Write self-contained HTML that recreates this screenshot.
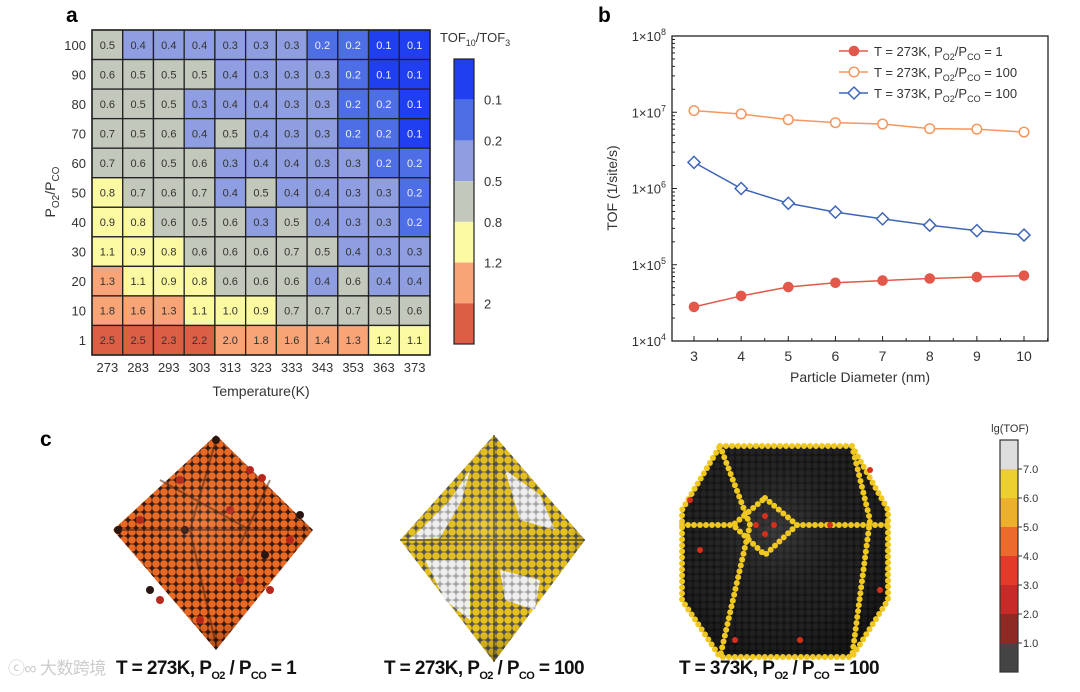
<!DOCTYPE html>
<html><head><meta charset="utf-8">
<style>
html,body{margin:0;padding:0;background:#fff;}
body{width:1080px;height:687px;overflow:hidden;font-family:"Liberation Sans","Noto Sans CJK SC",sans-serif;}
svg text{font-family:"Liberation Sans","Noto Sans CJK SC",sans-serif;}
</style></head>
<body>
<svg id="fig" width="1080" height="687" viewBox="0 0 1080 687" xmlns="http://www.w3.org/2000/svg">
<defs>
 <pattern id="p1" width="8" height="8" patternUnits="userSpaceOnUse">
  <rect width="8" height="8" fill="#3a1a10"/><circle cx="4" cy="4" r="3.8" fill="#ee6a22"/>
 </pattern>
 <pattern id="p2" width="8" height="8" patternUnits="userSpaceOnUse">
  <rect width="8" height="8" fill="#555"/><circle cx="4" cy="4" r="3.8" fill="#e9c21c"/>
 </pattern>
 <pattern id="p2w" width="8" height="8" patternUnits="userSpaceOnUse">
  <rect width="8" height="8" fill="#aaa"/><circle cx="4" cy="4" r="3.8" fill="#f4f4f4"/>
 </pattern>
 <pattern id="p3" width="7" height="7" patternUnits="userSpaceOnUse">
  <rect width="7" height="7" fill="#151515"/><circle cx="3.5" cy="3.5" r="3" fill="#232323"/>
 </pattern>
 <radialGradient id="shade" cx="45%" cy="40%" r="65%">
  <stop offset="0%" stop-color="#fff" stop-opacity="0.12"/>
  <stop offset="70%" stop-color="#000" stop-opacity="0"/>
  <stop offset="100%" stop-color="#000" stop-opacity="0.35"/>
 </radialGradient>
</defs>
<text x="66" y="22" font-size="21" font-weight="bold">a</text>
<text x="598" y="22" font-size="21" font-weight="bold">b</text>
<text x="40" y="446" font-size="21" font-weight="bold">c</text>
<g id="heat"></g>
<g id="cbar"></g>
<g id="line"></g>
<g id="parts">
 <polygon points="216,435 313,530 216,650 113,530" fill="url(#p1)"/>
 <g fill="#b8281a">
  <circle cx="180" cy="480" r="4"/><circle cx="250" cy="470" r="4"/><circle cx="262" cy="478" r="4"/><circle cx="140" cy="520" r="4"/>
  <circle cx="290" cy="540" r="4"/><circle cx="240" cy="580" r="4"/><circle cx="160" cy="600" r="4"/><circle cx="270" cy="590" r="4"/>
  <circle cx="200" cy="620" r="4"/><circle cx="230" cy="510" r="4"/>
 </g>
 <g fill="#2a1510">
  <circle cx="216" cy="440" r="4"/><circle cx="118" cy="530" r="4"/><circle cx="150" cy="590" r="4"/><circle cx="300" cy="515" r="4"/>
  <circle cx="185" cy="530" r="4"/><circle cx="265" cy="555" r="4"/>
 </g>
 <path d="M216,440 L190,530 L216,645 M118,530 L308,530 M160,480 L250,530 M270,480 L240,545" stroke="#3a1508" stroke-width="2" opacity="0.5" fill="none"/>
 <polygon points="216,435 313,530 216,650 113,530" fill="url(#shade)"/>
 <polygon points="494,435 585,540 494,662 400,540" fill="url(#p2)"/>
 <polygon points="470,470 450,500 420,530 408,540 440,538 462,500" fill="url(#p2w)"/>
 <polygon points="425,560 470,560 470,620 445,600" fill="url(#p2w)"/>
 <polygon points="505,470 540,495 555,530 520,520" fill="url(#p2w)"/>
 <polygon points="500,570 540,580 535,610 505,600" fill="url(#p2w)"/>
 <path d="M494,435 L494,662 M400,540 L585,540" stroke="#222" stroke-width="2" opacity="0.5" fill="none"/>
 <polygon points="494,435 585,540 494,662 400,540" fill="url(#shade)"/>
 <polygon points="720,446 852,446 888,510 888,600 852,657 720,657 682,600 682,510" fill="url(#p3)"/>
 <polygon points="720,446 852,446 888,510 888,600 852,657 720,657 682,600 682,510" fill="url(#shade)"/>
 <g fill="none" stroke="#f0c820" stroke-width="6" stroke-linecap="round" stroke-dasharray="0 6">
  <polygon points="720,446 852,446 888,510 888,600 852,657 720,657 682,600 682,510"/>
  <polyline points="720,446 750,525 720,657"/>
  <polyline points="852,446 870,520 852,657"/>
  <polygon points="765,498 797,525 765,555 733,525"/>
  <line x1="682" y1="525" x2="733" y2="525"/><line x1="797" y1="525" x2="888" y2="525"/>
 </g>
 <g fill="#d83018">
  <circle cx="765" cy="516" r="3"/><circle cx="756" cy="525" r="3"/><circle cx="774" cy="525" r="3"/><circle cx="765" cy="534" r="3"/>
  <circle cx="830" cy="525" r="3"/><circle cx="700" cy="550" r="3"/><circle cx="870" cy="470" r="3"/><circle cx="800" cy="640" r="3"/>
  <circle cx="690" cy="500" r="3"/><circle cx="880" cy="590" r="3"/><circle cx="735" cy="640" r="3"/>
 </g>
</g>
<g id="caps" font-size="19" font-weight="bold" fill="#111" letter-spacing="-0.6">
 <text x="116" y="674">T = 273K, P<tspan font-size="11" dy="5">O2</tspan><tspan dy="-5"> / P</tspan><tspan font-size="11" dy="5">CO</tspan><tspan dy="-5"> = 1</tspan></text>
 <text x="384" y="674">T = 273K, P<tspan font-size="11" dy="5">O2</tspan><tspan dy="-5"> / P</tspan><tspan font-size="11" dy="5">CO</tspan><tspan dy="-5"> = 100</tspan></text>
 <text x="679" y="674">T = 373K, P<tspan font-size="11" dy="5">O2</tspan><tspan dy="-5"> / P</tspan><tspan font-size="11" dy="5">CO</tspan><tspan dy="-5"> = 100</tspan></text>
 <text x="8" y="674" font-size="17" font-weight="normal" fill="#ccc">ⓒ∞ 大数跨境</text>
</g>
<g id="lgcb"></g>
</svg>
<script>
const NS="http://www.w3.org/2000/svg";
function mk(tag,attrs,parent,text){const e=document.createElementNS(NS,tag);for(const k in attrs)e.setAttribute(k,attrs[k]);if(text!==undefined)e.textContent=text;parent.appendChild(e);return e;}

// ---------- Panel a data ----------
const temps=[273,283,293,303,313,323,333,343,353,363,373];
const ratios=[100,90,80,70,60,50,40,30,20,10,1];
const heatRows=[
[0.5,0.4,0.4,0.4,0.3,0.3,0.3,0.2,0.2,0.1,0.1],
[0.6,0.5,0.5,0.5,0.4,0.3,0.3,0.3,0.2,0.1,0.1],
[0.6,0.5,0.5,0.3,0.4,0.4,0.3,0.3,0.2,0.2,0.1],
[0.7,0.5,0.6,0.4,0.5,0.4,0.3,0.3,0.2,0.2,0.1],
[0.7,0.6,0.5,0.6,0.3,0.4,0.4,0.3,0.3,0.2,0.2],
[0.8,0.7,0.6,0.7,0.4,0.5,0.4,0.4,0.3,0.3,0.2],
[0.9,0.8,0.6,0.5,0.6,0.3,0.5,0.4,0.3,0.3,0.2],
[1.1,0.9,0.8,0.6,0.6,0.6,0.7,0.5,0.4,0.3,0.3],
[1.3,1.1,0.9,0.8,0.6,0.6,0.6,0.4,0.6,0.4,0.4],
[1.8,1.6,1.3,1.1,1.0,0.9,0.7,0.7,0.7,0.5,0.6],
[2.5,2.5,2.3,2.2,2.0,1.8,1.6,1.4,1.3,1.2,1.1]];
const binLabels=["0.1","0.2","0.5","0.8","1.2","2"];
const binColors=["#1f3ff0","#4e6ee6","#8e9ee0","#c2c8bb","#fbf9a2","#f9a477","#dc5e44"];
const binEdges=[0.15,0.25,0.45,0.75,1.25,2.1];
function colorOf(v){let i=0;while(i<binEdges.length&&v>=binEdges[i])i++;return binColors[i];}

const hm=document.getElementById('heat');
const gx0=92,gx1=430,gy0=30,gy1=355;
const cw=(gx1-gx0)/temps.length, ch=(gy1-gy0)/ratios.length;
const xCell=i=>gx0+i*cw, yCell=j=>gy0+j*ch;
heatRows.forEach((row,j)=>row.forEach((v,i)=>{
  const r=mk('rect',{x:xCell(i),y:yCell(j),width:cw,height:ch,fill:colorOf(v),stroke:'#222','stroke-width':1.3},hm);
  
  
  const t=mk('text',{x:xCell(i)+cw/2,y:yCell(j)+ch/2+4,'text-anchor':'middle','font-size':11,fill:v<0.25?'#eef':'#333'},hm,v.toFixed(1));
  
  
}));
mk('rect',{x:gx0,y:gy0,width:gx1-gx0,height:gy1-gy0,fill:'none',stroke:'#222','stroke-width':1.5},hm);
ratios.forEach((r,j)=>{const t=mk('text',{x:gx0-6,y:yCell(j)+ch/2+5,'text-anchor':'end','font-size':13,fill:'#333'},hm,r);
 });
temps.forEach((tt,i)=>{const t=mk('text',{x:xCell(i)+cw/2,y:372,'text-anchor':'middle','font-size':13,fill:'#333'},hm,tt);
 });
const xt=mk('text',{x:(gx0+gx1)/2,y:396,'text-anchor':'middle','font-size':14,fill:'#333'},hm,'Temperature(K)');

const yt=mk('text',{transform:'translate(55,192) rotate(-90)','text-anchor':'middle','font-size':14,fill:'#333'},hm);

yt.innerHTML='P<tspan font-size="10" dy="4">O2</tspan><tspan dy="-4">/P</tspan><tspan font-size="10" dy="4">CO</tspan>';

const cb=document.getElementById('cbar');
const bx=454,by0=59,by1=344,bh=(by1-by0)/binColors.length;
binColors.forEach((c,i)=>{const r=mk('rect',{x:bx,y:by0+i*bh,width:20,height:bh,fill:c},cb);
 });
mk('rect',{x:bx,y:by0,width:20,height:by1-by0,fill:'none',stroke:'#222','stroke-width':1.2},cb);
binLabels.forEach((l,i)=>{const t=mk('text',{x:484,y:by0+(i+1)*bh+5,'font-size':13,fill:'#333'},cb,l);
 });
const cbt=mk('text',{x:440,y:42,'font-size':13,fill:'#333'},cb);

cbt.innerHTML='TOF<tspan font-size="9" dy="4">10</tspan><tspan dy="-4">/TOF</tspan><tspan font-size="9" dy="4">3</tspan>';

// ---------- Panel b data ----------
const diameters=[3,4,5,6,7,8,9,10];
const tofRed=[2.8e4,3.9e4,5.1e4,5.8e4,6.2e4,6.6e4,6.9e4,7.2e4];
const tofOrange=[1.05e7,9.5e6,8.0e6,7.3e6,7.0e6,6.1e6,6.0e6,5.5e6];
const tofBlue=[2.2e6,1.0e6,6.4e5,4.9e5,4.0e5,3.3e5,2.8e5,2.45e5];
const yTickExp=[4,5,6,7,8];

const lc=document.getElementById('line');
const px0=672,px1=1048,py0=36,py1=341;
const xs=d=>694+(d-3)*(1024-694)/7;
const ys=v=>py1-(Math.log10(v)-4)*(py1-py0)/4;
mk('rect',{x:px0,y:py0,width:px1-px0,height:py1-py0,fill:'none',stroke:'#222','stroke-width':1.3},lc);
diameters.forEach(d=>{
 mk('line',{x1:xs(d),x2:xs(d),y1:py1,y2:py1-5,stroke:'#222'},lc);
 mk('line',{x1:xs(d+0.5),x2:xs(d+0.5),y1:py1,y2:py1-3,stroke:'#222'},lc);
 const t=mk('text',{x:xs(d),y:py1+20,'text-anchor':'middle','font-size':14,fill:'#333'},lc,d);
 
});
yTickExp.forEach(e=>{
 const y=ys(Math.pow(10,e));
 mk('line',{x1:px0,x2:px0+5,y1:y,y2:y,stroke:'#222'},lc);
 if(e<8)for(let k=2;k<10;k++){const yy=ys(k*Math.pow(10,e));mk('line',{x1:px0,x2:px0+3,y1:yy,y2:yy,stroke:'#222'},lc);}
 const t=mk('text',{x:px0-6,y:y+5,'text-anchor':'end','font-size':13,fill:'#333'},lc);
 t.innerHTML='1×10<tspan font-size="9" dy="-6">'+e+'</tspan>';
 
});
const bxt=mk('text',{x:860,y:382,'text-anchor':'middle','font-size':14,fill:'#333'},lc,'Particle Diameter (nm)');

const byt=mk('text',{transform:'translate(617,188) rotate(-90)','text-anchor':'middle','font-size':14,fill:'#333'},lc,'TOF (1/site/s)');


function marker(g,type,x,y,c){
 if(type==='fill')return mk('circle',{cx:x,cy:y,r:4.8,fill:c,stroke:c},g);
 if(type==='open')return mk('circle',{cx:x,cy:y,r:4.8,fill:'#fff',stroke:c,'stroke-width':1.5},g);
 return mk('polygon',{points:`${x},${y-6} ${x+6},${y} ${x},${y+6} ${x-6},${y}`,fill:'#fff',stroke:c,'stroke-width':1.5},g);
}
function series(vals,c,type,name){
 const g=mk('g',{},lc);
 
 
 mk('polyline',{points:vals.map((v,i)=>xs(diameters[i])+','+ys(v)).join(' '),fill:'none',stroke:c,'stroke-width':1.5},g);
 vals.forEach((v,i)=>{const m=marker(g,type,xs(diameters[i]),ys(v),c);
  });
}
series(tofOrange,'#f4975f','open','series-273k-100');
series(tofBlue,'#3e66b8','diamond','series-373k-100');
series(tofRed,'#e2584a','fill','series-273k-1');

const legItems=[['#e2584a','fill','= 1'],['#f4975f','open','= 100'],['#3e66b8','diamond','= 100']];
const legT=['273K','273K','373K'];
legItems.forEach((it,i)=>{
 const y=51+i*21;
 const g=mk('g',{},lc);
 
 
 mk('line',{x1:839,x2:868,y1:y,y2:y,stroke:it[0],'stroke-width':1.5},g);
 marker(g,it[1],854,y,it[0]);
 const t=mk('text',{x:874,y:y+5,'font-size':13,fill:'#333'},g);
 t.innerHTML='T = '+legT[i]+', P<tspan font-size="9" dy="4">O2</tspan><tspan dy="-4">/P</tspan><tspan font-size="9" dy="4">CO</tspan><tspan dy="-4"> '+it[2]+'</tspan>';
});

// ---------- lg(TOF) colorbar ----------
const lgLabels=["7.0","6.0","5.0","4.0","3.0","2.0","1.0"];
const lgColors=["#dedede","#ecd030","#ecb02c","#ec6a2e","#e43a2a","#c82a28","#8e2a24","#444444"];
const lg=document.getElementById('lgcb');
const lx=1000,ly0=440,ly1=672,lh=(ly1-ly0)/lgColors.length;
lgColors.forEach((c,i)=>{const r=mk('rect',{x:lx,y:ly0+i*lh,width:18,height:lh,fill:c},lg);
 });
mk('rect',{x:lx,y:ly0,width:18,height:ly1-ly0,fill:'none',stroke:'#333','stroke-width':1.2},lg);
lgLabels.forEach((l,i)=>{const y=ly0+(i+1)*lh;
 mk('line',{x1:lx+18,x2:lx+22,y1:y,y2:y,stroke:'#333'},lg);
 const t=mk('text',{x:lx+23,y:y+4,'font-size':11,fill:'#333'},lg,l);
 });
const lgt=mk('text',{x:1010,y:432,'text-anchor':'middle','font-size':11,fill:'#333'},lg,'lg(TOF)');

</script>
</body></html>
